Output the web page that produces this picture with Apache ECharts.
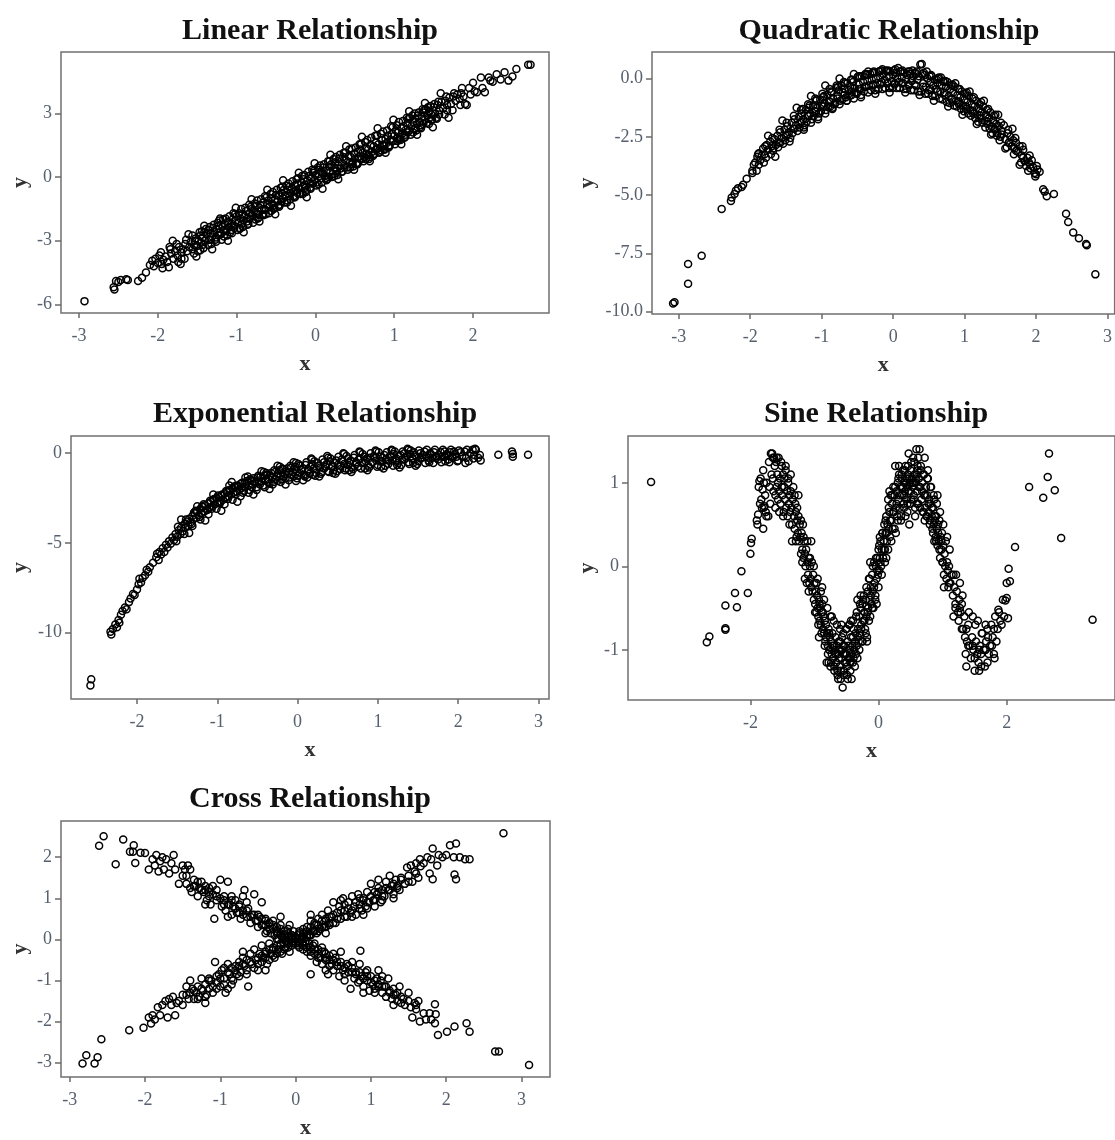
<!DOCTYPE html>
<html>
<head>
<meta charset="utf-8">
<style>html,body{margin:0;padding:0;background:#fff}#c{width:1115px;height:1140px}</style>
<script src="https://cdn.jsdelivr.net/npm/echarts@6/dist/echarts.min.js"></script>
</head>
<body>
<div id="c"></div>
<script>
// ---------- data ----------
const titles = ["Linear Relationship","Quadratic Relationship","Exponential Relationship","Sine Relationship","Cross Relationship"];

const linearXTicks = [-3,-2,-1,0,1,2];
const linearYTicks = [-6,-3,0,3];
const quadXTicks = [-3,-2,-1,0,1,2,3];
const quadYTicks = [-10,-7.5,-5,-2.5,0];
const expXTicks = [-2,-1,0,1,2,3];
const expYTicks = [-10,-5,0];
const sineXTicks = [-2,0,2];
const sineYTicks = [-1,0,1];
const crossXTicks = [-3,-2,-1,0,1,2,3];
const crossYTicks = [-3,-2,-1,0,1,2];

const linearData = [[-2.93,-5.85],[-2.55,-5.3],[-2.56,-5.2],[-2.53,-4.9],[-2.5,-4.95],[-2.47,-4.85],[-2.4,-4.82],[-2.38,-4.85],[-2.25,-4.9],[-2.2,-4.75],[-2.15,-4.5],[-2.1,-4.15],
[-2.07,-3.95],[-2.05,-4.2],[-2.03,-3.85],[-2.0,-4.05],[-1.98,-3.7],[-1.95,-4.1],[-1.93,-3.9],[-1.9,-3.75],[-1.88,-4.0],[-1.85,-3.3],[-1.83,-3.6],[-1.8,-3.85],[-1.78,-3.5],[-1.75,-3.7],[-1.73,-3.3],[-1.7,-3.55],[-1.7,-3.85],[-1.68,-3.4],[-1.65,-3.15],[-1.63,-3.5],[-1.6,-3.3],[-1.58,-3.05],[-1.56,-3.4],[-1.54,-3.2],[-1.52,-2.9],[-1.5,-3.25],[-1.48,-3.0],[-1.46,-2.75],[-1.45,-3.1],[-1.43,-2.85],[-1.41,-2.6],[-1.4,-3.0],[-1.38,-2.7],[-1.36,-2.5],[-1.35,-2.95],[-1.33,-2.65],[-1.31,-2.8],[-1.3,-2.4],[-1.28,-2.6],[-1.26,-2.85],[-1.25,-2.45],[-1.23,-2.3],[-1.21,-2.6],[-1.2,-2.7],[-1.18,-2.35],[-1.16,-2.5],[-1.15,-2.2],[-1.13,-2.45],[-1.11,-2.1],[-1.1,-2.35],[-1.08,-2.6],[-1.06,-2.2],[-1.05,-2.0],[-1.03,-2.3],[-1.01,-2.05],[-1.0,-1.85],[-0.98,-2.15],[-0.96,-2.4],[-0.95,-1.95],[-0.93,-1.75],[-0.91,-2.05],[-0.9,-1.85],[-0.88,-1.6],[-0.86,-1.95],[-0.85,-2.2],[-0.83,-1.7],[-0.81,-1.5],[-0.8,-1.8],[-0.78,-1.6],[-0.76,-1.35],[-0.75,-1.7],[-0.73,-1.95],[-0.71,-1.45],[-0.7,-1.3],[-0.68,-1.55],[-0.66,-1.2],[-0.65,-1.5],[-0.63,-1.75],[-0.61,-1.3],[-0.6,-1.1],[-0.58,-1.4],[-0.56,-1.0],[-0.55,-1.25],[-0.53,-1.5],[-0.51,-1.05],[-0.5,-0.85],[-0.48,-1.15],[-0.46,-0.9],[-0.45,-1.3],[-0.43,-0.75],[-0.41,-1.0],[-0.4,-0.6],[-0.38,-0.85],[-0.36,-1.1],[-0.35,-0.6],[-0.33,-0.45],[-0.31,-0.75],[-0.3,-0.55],[-0.28,-0.9],[-0.26,-0.4],[-0.25,-0.65],[-0.23,-0.3],[-0.21,-0.55],[-0.2,-0.75],[-0.18,-0.25],[-0.16,-0.45],[-0.15,-0.1],[-0.13,-0.35],[-0.11,-0.6],[-0.1,-0.15],[-0.08,0.05],[-0.06,-0.3],[-0.05,-0.05],[-0.03,0.2],[-0.01,-0.15],[0.0,0.1],[0.02,-0.25],[0.04,0.15],[0.05,0.35],[0.07,-0.05],[0.09,0.2],[0.1,0.45],[0.12,0.05],[0.14,0.3],[0.15,-0.1],[0.17,0.5],[0.19,0.25],[0.2,0.6],[0.22,0.15],[0.24,0.45],[0.25,0.7],[0.27,0.3],[0.29,0.55],[0.3,0.85],[0.32,0.4],[0.34,0.65],[0.35,0.95],[0.37,0.55],[0.39,0.8],[0.4,0.45],[0.42,1.0],[0.44,0.7],[0.45,0.95],[0.47,0.6],[0.49,1.1],[0.5,0.85],[0.52,0.65],[0.54,1.2],[0.55,0.95],[0.57,1.3],[0.59,0.85],[0.6,1.15],[0.62,0.95],[0.64,1.4],[0.65,1.1],[0.67,1.3],[0.69,0.95],[0.7,1.5],[0.72,1.2],[0.74,1.45],[0.75,1.1],[0.77,1.65],[0.79,1.35],[0.8,1.55],[0.82,1.2],[0.84,1.75],[0.85,1.5],[0.87,1.3],[0.89,1.8],[0.9,1.6],[0.92,1.95],[0.94,1.5],[0.95,1.75],[0.97,2.05],[0.99,1.7],[1.0,1.95],[1.02,2.2],[1.04,1.85],[1.05,2.1],[1.07,1.8],[1.09,2.3],[1.1,2.05],[1.12,2.4],[1.14,2.0],[1.15,2.25],[1.17,2.55],[1.19,2.2],[1.2,2.8],[1.22,2.4],[1.24,2.6],[1.25,2.25],[1.27,2.75],[1.29,2.5],[1.3,2.9],[1.32,2.6],[1.34,2.45],[1.35,2.85],[1.37,3.05],[1.39,2.7],[1.4,3.2],[1.42,2.9],[1.44,2.75],[1.45,3.1],[1.47,2.95],[1.5,3.3],[1.52,3.0],[1.55,3.4],[1.57,3.15],[1.6,3.55],[1.62,3.25],[1.65,3.6],[1.67,3.4],[1.7,3.75],[1.72,3.45],[1.75,3.8],[1.78,3.6],[1.8,3.9],[1.83,3.7],[1.85,3.95],[1.88,3.8],[1.9,3.45],[1.92,3.4],[1.95,4.2],[1.97,3.9],[2.0,4.45],[2.02,4.05],[2.05,4.0],[2.1,4.7],[2.12,4.2],[2.15,4.0],[2.2,4.7],[2.22,4.55],[2.25,4.5],[2.3,4.85],[2.35,4.6],[2.4,4.95],[2.45,4.55],[2.5,4.75],[2.55,5.1],[2.7,5.3],[2.73,5.3]];
const linearExtra = [[-1.96,-3.55],[-1.94,-4.3],[-1.86,-4.25],[-1.84,-3.4],[-1.76,-3.15],[-1.74,-4.0],[-1.66,-3.85],[-1.64,-2.95],[-1.56,-2.75],[-1.54,-3.6],[-1.53,-3.0],[-1.46,-3.45],[-1.44,-2.55],[-1.43,-3.2],[-1.36,-3.2],[-1.34,-2.35],[-1.33,-2.95],[-1.26,-3.05],[-1.24,-2.15],[-1.23,-2.75],[-1.16,-2.8],[-1.14,-1.95],[-1.13,-2.55],[-1.06,-2.65],[-1.04,-1.7],[-1.03,-2.4],[-0.96,-2.45],[-0.94,-1.5],[-0.93,-2.2],[-0.86,-2.25],[-0.84,-1.3],[-0.83,-1.95],[-0.76,-2.0],[-0.74,-1.1],[-0.73,-1.75],[-0.66,-1.8],[-0.64,-0.9],[-0.63,-1.55],[-0.56,-1.6],[-0.54,-0.7],[-0.53,-1.35],[-0.46,-1.4],[-0.44,-0.5],[-0.43,-1.15],[-0.36,-1.2],[-0.34,-0.3],[-0.33,-0.9],[-0.26,-0.95],[-0.24,-0.1],[-0.23,-0.75],[-0.16,-0.8],[-0.14,0.1],[-0.13,-0.5],[-0.06,-0.55],[-0.04,0.35],[-0.03,-0.3],[0.04,-0.35],[0.06,0.55],[0.07,0.25],[0.14,-0.15],[0.16,0.75],[0.17,0.0],[0.24,0.05],[0.26,0.95],[0.27,0.3],[0.34,0.25],[0.36,1.15],[0.37,0.45],[0.44,0.45],[0.46,1.35],[0.47,0.7],[0.54,0.65],[0.56,1.55],[0.57,0.85],[0.64,0.85],[0.66,1.75],[0.67,1.05],[0.74,1.05],[0.76,1.95],[0.77,1.3],[0.84,1.25],[0.86,2.15],[0.87,1.5],[0.94,1.45],[0.96,2.4],[0.97,1.7],[1.04,1.7],[1.06,2.6],[1.07,1.9],[1.14,1.9],[1.16,2.8],[1.17,2.1],[1.24,2.1],[1.26,3.0],[1.27,2.3],[1.34,2.3],[1.36,3.2],[1.37,2.5],[1.44,2.5],[1.46,3.35],[1.47,2.7],[1.54,2.75],[1.56,3.55],[1.57,2.95],[1.64,2.95],[1.66,3.8],[1.67,3.15],[1.74,3.15],[1.76,3.95],[1.84,3.4],[1.86,4.2]];
const linearExtra2 = [[-1.49,-3.5],[-1.47,-2.6],[-1.42,-3.35],[-1.39,-2.45],[-1.32,-3.15],[-1.29,-2.25],[-1.27,-2.95],[-1.22,-2.05],[-1.19,-2.95],[-1.17,-2.0],[-1.12,-2.75],[-1.09,-1.85],[-1.07,-2.5],[-1.02,-1.75],[-0.99,-2.5],[-0.97,-1.7],[-0.92,-2.35],[-0.89,-1.45],[-0.87,-2.1],[-0.82,-1.4],[-0.79,-2.15],[-0.77,-1.25],[-0.72,-1.9],[-0.69,-1.05],[-0.67,-1.75],[-0.62,-0.95],[-0.59,-1.7],[-0.57,-0.8],[-0.52,-1.45],[-0.49,-0.6],[-0.47,-1.35],[-0.42,-0.45],[-0.39,-1.2],[-0.37,-0.4],[-0.32,-1.05],[-0.29,-0.2],[-0.27,-0.95],[-0.22,-0.05],[-0.19,-0.8],[-0.17,0.05],[-0.12,-0.7],[-0.09,0.25],[-0.07,-0.5],[-0.02,0.3],[0.01,-0.4],[0.03,0.45],[0.08,-0.25],[0.11,0.6],[0.13,-0.05],[0.18,0.75],[0.21,0.0],[0.23,0.85],[0.28,0.1],[0.31,1.05],[0.33,0.25],[0.38,1.15],[0.41,0.35],[0.43,1.3],[0.48,0.5],[0.51,1.4],[0.53,0.6],[0.58,1.55],[0.61,0.75],[0.63,1.65],[0.68,0.85],[0.71,1.85],[0.73,1.0],[0.78,1.95],[0.81,1.15],[0.83,2.05],[0.88,1.3],[0.91,2.2],[0.93,1.4],[0.98,2.35],[1.01,1.55],[1.03,2.45],[1.08,1.75],[1.11,2.65],[1.13,1.85],[1.18,2.75],[1.21,2.0],[1.23,2.9],[1.28,2.2],[1.31,3.05],[1.33,2.35],[1.38,3.15],[1.41,2.55],[1.43,3.3],[1.48,2.7],[1.51,3.45],[1.53,2.8]];
const linearExtra3 = [[-1.81,-3.0],[-1.71,-4.1],[-1.61,-2.7],[-1.51,-3.75],[-1.41,-2.3],[-1.31,-3.4],[-1.21,-1.95],[-1.11,-3.0],[-1.01,-1.45],[-0.91,-2.6],[-0.81,-1.05],[-0.71,-2.1],[-0.61,-0.6],[-0.51,-1.75],[-0.41,-0.15],[-0.31,-1.35],[-0.21,0.2],[-0.11,-0.95],[-0.01,0.65],[0.09,-0.55],[0.19,1.05],[0.29,-0.1],[0.39,1.45],[0.49,0.35],[0.59,1.9],[0.69,0.75],[0.79,2.3],[0.89,1.15],[0.99,2.7],[1.09,1.55],[1.19,3.1],[1.29,2.0],[1.39,3.5],[1.49,2.35],[1.59,3.95],[1.69,2.8]];

const quadData = [[-3.08,-9.65],[-3.06,-9.6],[-2.87,-7.95],[-2.87,-8.8],[-2.68,-7.6],[-2.4,-5.6],[-2.27,-5.25],[-2.26,-5.1],[-2.22,-4.95],[-2.2,-4.8],[-2.17,-4.7],[-2.12,-4.65],[-2.1,-4.55],[-2.05,-4.3],[-1.97,-4.05],[-1.97,-3.95],[-1.95,-3.7],
[-1.93,-3.6],[-1.9,-3.35],[-1.88,-3.2],[-1.86,-3.5],[-1.84,-3.3],[-1.82,-3.0],[-1.8,-3.25],[-1.77,-2.85],[-1.75,-3.05],[-1.72,-2.7],[-1.7,-2.9],[-1.68,-3.0],[-1.66,-2.6],[-1.64,-2.85],[-1.62,-2.45],[-1.6,-2.75],[-1.58,-2.3],[-1.56,-2.55],[-1.54,-2.8],[-1.52,-2.2],[-1.5,-2.45],[-1.48,-2.05],[-1.46,-2.3],[-1.44,-2.55],[-1.42,-1.9],[-1.4,-2.15],[-1.38,-1.75],[-1.36,-2.0],[-1.34,-2.25],[-1.32,-1.65],[-1.3,-1.9],[-1.28,-1.5],[-1.26,-1.75],[-1.24,-2.0],[-1.22,-1.35],[-1.2,-1.6],[-1.18,-1.25],[-1.16,-1.5],[-1.14,-1.75],[-1.12,-1.15],[-1.1,-1.4],[-1.08,-0.95],[-1.06,-1.25],[-1.04,-1.5],[-1.02,-0.9],[-1.0,-1.15],[-0.98,-0.8],[-0.96,-1.05],[-0.94,-1.35],[-0.92,-0.7],[-0.9,-0.95],[-0.88,-1.2],[-0.86,-0.6],[-0.84,-0.85],[-0.82,-1.1],[-0.8,-0.4],[-0.78,-0.75],[-0.76,-0.5],[-0.74,-0.95],[-0.72,-0.3],[-0.7,-0.6],[-0.68,-0.45],[-0.66,-0.8],[-0.64,-0.2],[-0.62,-0.5],[-0.6,-0.35],[-0.58,-0.7],[-0.56,-0.15],[-0.54,-0.4],[-0.52,-0.6],[-0.5,0.05],[-0.48,-0.25],[-0.46,-0.45],[-0.44,0.1],[-0.42,-0.15],[-0.4,-0.35],[-0.38,0.15],[-0.36,-0.1],[-0.34,-0.3],[-0.32,0.2],[-0.3,-0.05],[-0.28,-0.25],[-0.26,0.25],[-0.24,0.0],[-0.22,-0.2],[-0.2,0.3],[-0.18,0.05],[-0.16,-0.15],[-0.14,0.2],[-0.12,-0.05],[-0.1,0.35],[-0.08,-0.2],[-0.06,0.1],[-0.04,0.3],[-0.02,-0.1],[0.0,0.15],[0.02,-0.25],[0.04,0.25],[0.06,0.0],[0.08,-0.15],[0.1,0.3],[0.12,0.05],[0.14,-0.2],[0.16,0.25],[0.18,-0.05],[0.2,0.15],[0.22,-0.3],[0.24,0.2],[0.26,-0.1],[0.28,0.1],[0.3,-0.25],[0.32,0.2],[0.34,-0.05],[0.36,0.1],[0.38,0.6],[0.4,0.62],[0.42,-0.2],[0.44,0.15],[0.46,-0.35],[0.48,0.0],[0.5,-0.5],[0.52,-0.15],[0.54,0.1],[0.56,-0.3],[0.58,-0.05],[0.6,-0.45],[0.62,-0.2],[0.64,0.05],[0.66,-0.55],[0.68,-0.3],[0.7,-0.1],[0.72,-0.6],[0.74,-0.35],[0.76,-0.15],[0.78,-0.75],[0.8,-0.45],[0.82,-0.9],[0.84,-0.6],[0.86,-0.35],[0.88,-0.95],[0.9,-0.7],[0.92,-1.1],[0.94,-0.8],[0.96,-0.55],[0.98,-1.15],[1.0,-0.9],[1.02,-1.3],[1.04,-1.0],[1.06,-0.75],[1.08,-1.35],[1.1,-1.1],[1.12,-1.5],[1.14,-1.2],[1.16,-0.95],[1.18,-1.55],[1.2,-1.3],[1.22,-1.7],[1.24,-1.45],[1.26,-1.2],[1.28,-1.8],[1.3,-1.55],[1.32,-1.95],[1.34,-1.7],[1.36,-1.45],[1.38,-2.05],[1.4,-1.8],[1.42,-2.2],[1.44,-1.95],[1.46,-2.35],[1.48,-2.05],[1.5,-2.5],[1.52,-2.25],[1.55,-2.0],[1.57,-2.6],[1.6,-2.35],[1.62,-2.75],[1.64,-2.5],[1.66,-2.9],[1.68,-2.65],[1.7,-3.0],[1.72,-2.75],[1.75,-3.15],[1.77,-2.9],[1.8,-3.3],[1.82,-3.05],[1.84,-3.55],[1.86,-3.75],[1.88,-3.4],[1.9,-3.6],[1.92,-3.85],[1.94,-3.5],[1.96,-3.8],[1.98,-4.05],[2.0,-4.1],[2.02,-3.9],[2.05,-4.0],
[2.1,-4.75],[2.12,-4.85],[2.15,-5.05],[2.25,-4.95],[2.42,-5.8],[2.45,-6.15],[2.52,-6.6],[2.6,-6.85],[2.7,-7.1],[2.71,-7.15],[2.83,-8.4]];
const quadExtra = [[-1.91,-3.95],[-1.89,-3.25],[-1.88,-3.7],[-1.81,-3.6],[-1.79,-2.9],[-1.78,-3.4],[-1.71,-3.25],[-1.69,-2.55],[-1.68,-3.1],[-1.61,-2.95],[-1.59,-2.2],[-1.58,-2.75],[-1.51,-2.65],[-1.49,-1.9],[-1.48,-2.4],[-1.41,-2.35],[-1.39,-1.6],[-1.38,-2.15],[-1.31,-2.1],[-1.29,-1.35],[-1.28,-1.85],[-1.21,-1.85],[-1.19,-1.1],[-1.18,-1.6],[-1.11,-1.6],[-1.09,-0.85],[-1.08,-1.4],[-1.01,-1.4],[-0.99,-0.65],[-0.98,-1.2],[-0.91,-1.2],[-0.89,-0.45],[-0.88,-1.0],[-0.81,-1.05],[-0.79,-0.3],[-0.78,-0.85],[-0.71,-0.9],[-0.69,-0.15],[-0.68,-0.7],[-0.61,-0.75],[-0.59,-0.05],[-0.58,-0.55],[-0.51,-0.65],[-0.49,0.1],[-0.48,-0.45],[-0.41,-0.55],[-0.39,0.2],[-0.38,-0.35],[-0.31,-0.5],[-0.29,0.25],[-0.28,-0.3],[-0.21,-0.45],[-0.19,0.3],[-0.18,-0.25],[-0.11,-0.4],[-0.09,0.3],[-0.08,-0.2],[-0.01,-0.4],[0.01,0.35],[0.02,-0.2],[0.09,-0.4],[0.11,0.3],[0.12,-0.2],[0.19,-0.45],[0.21,0.3],[0.22,-0.25],[0.29,-0.5],[0.31,0.25],[0.32,-0.3],[0.39,-0.55],[0.41,0.2],[0.42,-0.35],[0.49,-0.65],[0.51,0.1],[0.52,-0.45],[0.59,-0.75],[0.61,-0.05],[0.62,-0.55],[0.69,-0.9],[0.71,-0.15],[0.72,-0.7],[0.79,-1.05],[0.81,-0.3],[0.82,-0.85],[0.89,-1.2],[0.91,-0.45],[0.92,-1.0],[0.99,-1.4],[1.01,-0.65],[1.02,-1.2],[1.09,-1.6],[1.11,-0.85],[1.12,-1.4],[1.19,-1.85],[1.21,-1.1],[1.22,-1.6],[1.29,-2.1],[1.31,-1.35],[1.32,-1.85],[1.39,-2.35],[1.41,-1.6],[1.42,-2.15],[1.49,-2.65],[1.51,-1.9],[1.52,-2.4],[1.59,-2.95],[1.61,-2.2],[1.62,-2.75],[1.69,-3.25],[1.71,-2.55],[1.72,-3.1],[1.79,-3.6],[1.81,-2.9],[1.82,-3.4],[1.89,-3.95],[1.91,-3.3],[1.92,-3.7],[1.99,-4.2],[2.01,-3.75]];
const quadExtra2 = [[-1.27,-1.3],[-1.25,-2.1],[-1.17,-1.15],[-1.15,-1.9],[-1.07,-0.9],[-1.05,-1.65],[-0.97,-0.75],[-0.95,-1.5],[-0.87,-0.55],[-0.85,-1.25],[-0.77,-0.35],[-0.75,-1.1],[-0.67,-0.2],[-0.65,-0.95],[-0.57,-0.05],[-0.55,-0.85],[-0.47,0.1],[-0.45,-0.7],[-0.37,0.2],[-0.35,-0.6],[-0.27,0.3],[-0.25,-0.5],[-0.17,0.35],[-0.15,-0.45],[-0.07,0.35],[-0.05,-0.4],[0.03,0.4],[0.05,-0.4],[0.13,0.35],[0.15,-0.45],[0.23,0.3],[0.25,-0.5],[0.33,0.3],[0.35,-0.55],[0.43,0.25],[0.45,-0.65],[0.53,0.15],[0.55,-0.75],[0.63,0.0],[0.65,-0.85],[0.73,-0.1],[0.75,-1.0],[0.83,-0.25],[0.85,-1.15],[0.93,-0.45],[0.95,-1.3],[1.03,-0.6],[1.05,-1.5],[1.13,-0.8],[1.15,-1.7],[1.23,-1.0],[1.25,-1.9],[1.33,-1.3],[1.35,-2.15],[1.43,-1.55],[1.45,-2.45]];
const quadExtra3 = [[-1.75,-2.45],[-1.65,-3.35],[-1.55,-1.8],[-1.45,-2.7],[-1.35,-1.25],[-1.25,-2.2],[-1.15,-0.75],[-1.05,-1.75],[-0.95,-0.3],[-0.85,-1.3],[-0.75,0.0],[-0.65,-0.95],[-0.55,0.2],[-0.45,-0.8],[-0.35,0.3],[-0.25,-0.65],[-0.15,0.4],[-0.05,-0.6],[0.07,0.45],[0.17,-0.6],[0.27,0.35],[0.37,-0.7],[0.47,0.3],[0.57,-0.95],[0.67,0.05],[0.77,-1.2],[0.87,-0.2],[0.97,-1.55],[1.07,-0.55],[1.17,-1.95],[1.27,-0.95],[1.37,-2.4],[1.47,-1.55],[1.57,-3.0],[1.67,-2.15],[1.77,-3.7]];

const expData = [[-2.58,-12.95],[-2.57,-12.6],
[-2.33,-9.95],[-2.32,-10.1],[-2.3,-9.8],[-2.27,-9.55],[-2.25,-9.7],[-2.23,-9.3],[-2.22,-9.45],[-2.2,-9.0],[-2.18,-8.8],[-2.15,-8.6],[-2.13,-8.7],[-2.1,-8.3],[-2.08,-8.1],[-2.05,-7.85],[-2.03,-7.9],[-2.0,-7.6],[-1.98,-7.3],[-1.97,-7.0],[-1.95,-7.2],[-1.93,-6.95],[-1.9,-6.8],[-1.88,-6.5],[-1.86,-6.6],[-1.84,-6.35],[-1.8,-6.1],[-1.76,-5.8],[-1.75,-5.6],[-1.73,-5.95],[-1.72,-5.5],[-1.7,-5.65],[-1.68,-5.3],[-1.66,-5.5],[-1.64,-5.1],[-1.62,-5.25],[-1.6,-4.9],[-1.58,-5.05],[-1.56,-4.7],[-1.54,-4.85],[-1.52,-4.5],[-1.5,-4.65],[-1.48,-4.3],[-1.46,-4.5],[-1.45,-4.15],[-1.43,-4.35],[-1.41,-3.95],[-1.4,-4.15],[-1.38,-3.8],[-1.36,-4.05],[-1.35,-3.65],[-1.33,-3.85],[-1.31,-3.5],[-1.3,-3.7],[-1.28,-3.35],[-1.26,-3.6],[-1.25,-3.25],[-1.23,-3.45],[-1.21,-3.1],[-1.2,-3.35],[-1.18,-3.0],[-1.16,-3.25],[-1.15,-2.9],[-1.13,-3.15],[-1.11,-2.8],[-1.1,-3.05],[-1.08,-2.7],[-1.06,-2.95],[-1.05,-2.6],[-1.03,-2.85],[-1.01,-2.5],[-1.0,-2.75],[-0.98,-2.45],[-0.96,-2.7],[-0.95,-2.35],[-0.93,-2.6],[-0.91,-2.25],[-0.9,-2.5],[-0.88,-2.15],[-0.86,-2.4],[-0.85,-2.05],[-0.83,-2.3],[-0.81,-1.95],[-0.8,-2.2],[-0.78,-1.85],[-0.76,-2.15],[-0.75,-1.8],[-0.73,-2.05],[-0.71,-1.7],[-0.7,-1.95],[-0.68,-2.2],[-0.66,-1.65],[-0.65,-1.9],[-0.63,-1.55],[-0.61,-1.8],[-0.6,-2.05],[-0.58,-1.5],[-0.56,-1.75],[-0.55,-1.4],[-0.53,-1.65],[-0.51,-1.9],[-0.5,-1.35],[-0.48,-1.6],[-0.46,-1.3],[-0.45,-1.55],[-0.43,-1.8],[-0.41,-1.25],[-0.4,-1.5],[-0.38,-1.2],[-0.36,-1.45],[-0.35,-1.7],[-0.33,-1.1],[-0.31,-1.35],[-0.3,-1.6],[-0.28,-1.05],[-0.26,-1.3],[-0.25,-1.55],[-0.23,-0.95],[-0.21,-1.25],[-0.2,-1.45],[-0.18,-0.9],[-0.16,-1.15],[-0.15,-1.4],[-0.13,-0.85],[-0.11,-1.1],[-0.1,-1.35],[-0.08,-0.8],[-0.06,-1.05],[-0.05,-1.3],[-0.03,-0.75],[-0.01,-1.0],[0.0,-1.25],[0.03,-0.7],[0.05,-0.95],[0.08,-1.2],[0.1,-0.65],[0.13,-0.9],[0.15,-1.15],[0.18,-0.6],[0.2,-0.85],[0.23,-1.1],[0.25,-0.55],[0.28,-0.8],[0.3,-1.05],[0.33,-0.5],[0.35,-0.75],[0.38,-1.0],[0.4,-0.45],[0.43,-0.7],[0.45,-0.95],[0.48,-0.4],[0.5,-0.65],[0.53,-0.9],[0.55,-0.35],[0.58,-0.6],[0.6,-0.85],[0.63,-0.3],[0.65,-0.55],[0.68,-0.8],[0.7,-0.25],[0.73,-0.5],[0.75,-0.75],[0.78,-0.3],[0.8,-0.55],[0.83,-0.2],[0.85,-0.45],[0.88,-0.7],[0.9,-0.25],[0.93,-0.5],[0.95,-0.15],[0.98,-0.4],[1.0,-0.65],[1.03,-0.2],[1.05,-0.45],[1.08,-0.1],[1.1,-0.35],[1.13,-0.6],[1.15,-0.15],[1.18,-0.4],[1.2,-0.05],[1.23,-0.3],[1.25,-0.55],[1.28,-0.1],[1.3,-0.35],[1.33,0.0],[1.35,-0.25],[1.38,-0.5],[1.4,-0.05],[1.43,-0.3],[1.45,0.05],[1.48,-0.2],[1.5,-0.45],[1.53,0.0],[1.55,-0.25],[1.58,0.1],[1.6,-0.15],[1.63,-0.4],[1.65,0.0],[1.68,-0.25],[1.7,0.05],[1.73,-0.15],[1.75,-0.35],[1.78,0.05],[1.8,-0.2],[1.83,0.1],[1.85,-0.1],[1.88,-0.35],[1.9,0.05],[1.93,-0.15],[1.95,0.1],[1.98,-0.2],[2.0,-0.4],[2.03,0.05],[2.05,-0.15],[2.08,0.1],[2.1,-0.25],[2.13,-0.45],[2.15,0.0],[2.18,0.2],[2.2,-0.1],[2.22,0.2],[2.25,-0.25],[2.27,-0.1],[2.28,-0.4],[2.5,-0.09],[2.67,0.09],[2.68,-0.05],[2.68,-0.19],[2.87,-0.09]];
const expExtra = [[-1.51,-4.9],[-1.49,-4.1],[-1.41,-4.5],[-1.39,-3.7],[-1.31,-4.05],[-1.29,-3.3],[-1.21,-3.7],[-1.19,-2.95],[-1.11,-3.4],[-1.09,-2.65],[-1.07,-3.1],[-1.01,-3.1],[-0.99,-2.35],[-0.97,-2.8],[-0.91,-2.85],[-0.89,-2.1],[-0.87,-2.55],[-0.81,-2.6],[-0.79,-1.85],[-0.77,-2.3],[-0.71,-2.4],[-0.69,-1.65],[-0.67,-2.1],[-0.61,-2.2],[-0.59,-1.45],[-0.57,-1.9],[-0.51,-2.05],[-0.49,-1.25],[-0.47,-1.75],[-0.41,-1.9],[-0.39,-1.1],[-0.37,-1.6],[-0.31,-1.75],[-0.29,-0.95],[-0.27,-1.45],[-0.21,-1.6],[-0.19,-0.85],[-0.17,-1.3],[-0.11,-1.5],[-0.09,-0.7],[-0.07,-1.2],[-0.01,-1.4],[0.01,-0.6],[0.03,-1.1],[0.09,-1.3],[0.11,-0.5],[0.13,-1.0],[0.19,-1.2],[0.21,-0.45],[0.23,-0.9],[0.29,-1.15],[0.31,-0.35],[0.33,-0.85],[0.39,-1.05],[0.41,-0.3],[0.43,-0.75],[0.49,-1.0],[0.51,-0.2],[0.53,-0.7],[0.59,-0.95],[0.61,-0.15],[0.63,-0.65],[0.69,-0.9],[0.71,-0.1],[0.73,-0.6],[0.79,-0.85],[0.81,-0.05],[0.83,-0.55],[0.89,-0.8],[0.91,0.0],[0.93,-0.5],[0.99,-0.75],[1.01,0.05],[1.03,-0.45],[1.09,-0.7],[1.11,0.05],[1.13,-0.4],[1.19,-0.7],[1.21,0.1],[1.23,-0.4],[1.29,-0.65],[1.31,0.1],[1.33,-0.35],[1.39,-0.6],[1.41,0.15],[1.43,-0.3],[1.49,-0.6],[1.51,0.15],[1.53,-0.3],[1.59,-0.55],[1.61,0.2],[1.63,-0.25],[1.69,-0.55],[1.71,0.2],[1.73,-0.25],[1.79,-0.5],[1.81,0.2],[1.83,-0.2],[1.89,-0.5],[1.91,0.2],[1.93,-0.25],[1.99,-0.45],[2.01,0.15],[2.09,-0.55],[2.11,0.2],[2.19,-0.3],[2.21,0.25]];
const expExtra2 = [[-1.27,-3.2],[-1.17,-2.85],[-1.04,-2.55],[-0.94,-2.3],[-0.84,-2.05],[-0.74,-1.85],[-0.64,-1.7],[-0.54,-1.55],[-0.44,-1.4],[-0.34,-1.25],[-0.24,-1.15],[-0.14,-1.0],[-0.04,-0.9],[0.06,-0.85],[0.16,-0.75],[0.26,-0.7],[0.36,-0.6],[0.46,-0.55],[0.56,-0.45],[0.66,-0.4],[0.76,-0.35],[0.86,-0.3],[0.96,-0.25],[1.06,-0.25],[1.16,-0.2],[1.26,-0.15],[1.36,-0.15],[1.46,-0.1],[1.56,-0.1],[1.66,-0.05],[1.76,-0.1],[1.86,-0.05],[1.96,-0.05],[-1.32,-3.95],[-1.22,-3.55],[-1.12,-3.15],[-0.02,-1.55],[0.12,-1.35],[0.22,-1.25],[0.44,-1.1],[0.64,-0.95],[0.84,-0.85],[1.04,-0.75],[1.24,-0.65],[1.44,-0.55],[1.64,-0.5],[1.84,-0.45],[-0.82,-1.6],[-0.62,-1.3],[-0.42,-1.05],[-0.22,-0.75],[-0.02,-0.55],[0.18,-0.35],[0.38,-0.25],[0.58,-0.05],[0.78,0.05],[0.98,0.1],[1.18,0.15],[1.38,0.2]];
const expExtra3 = [[-1.45,-3.7],[-1.35,-4.45],[-1.25,-2.95],[-1.15,-3.75],[-1.05,-2.3],[-0.95,-3.2],[-0.85,-1.8],[-0.75,-2.7],[-0.65,-1.35],[-0.55,-2.3],[-0.45,-1.0],[-0.35,-2.0],[-0.25,-0.7],[-0.15,-1.75],[-0.05,-0.5],[0.07,-1.5],[0.17,-0.3],[0.27,-1.3],[0.37,-0.15],[0.47,-1.15],[0.57,0.0],[0.67,-1.05],[0.77,0.1],[0.87,-0.95],[0.97,0.15],[1.07,-0.85],[1.17,0.2],[1.27,-0.8],[1.37,0.25],[1.47,-0.7]];

const sineData = [[-3.55,1.01],[-2.68,-0.91],[-2.64,-0.84],[-2.39,-0.47],[-2.39,-0.74],[-2.39,-0.76],[-2.24,-0.32],[-2.21,-0.49],[-2.14,-0.06],[-2.04,-0.32],[-2.0,0.15],[-1.99,0.28],[-1.98,0.33],
[-1.9,0.55],[-1.89,0.5],[-1.88,0.62],[-1.87,0.95],[-1.86,1.02],[-1.85,0.75],[-1.84,1.05],[-1.83,0.8],[-1.82,0.7],[-1.81,0.92],[-1.8,0.45],[-1.79,1.0],[-1.78,0.72],[-1.77,0.85],[-1.76,0.65],[-1.75,1.0],[-1.72,0.6],[-1.7,0.95],[-1.68,1.35],[-1.66,1.35],[-1.65,1.05],[-1.64,0.9],[-1.63,1.3],[-1.62,1.2],[-1.61,0.85],[-1.6,1.25],[-1.59,0.95],[-1.58,1.1],[-1.57,0.8],[-1.56,1.3],[-1.55,0.9],[-1.54,1.05],[-1.53,0.75],[-1.52,1.25],[-1.51,0.95],[-1.5,0.85],[-1.49,1.1],[-1.48,0.65],[-1.47,0.95],[-1.46,0.8],[-1.45,1.2],[-1.44,0.7],[-1.43,0.9],[-1.42,0.6],[-1.41,1.05],[-1.4,0.75],[-1.39,0.85],[-1.38,0.65],[-1.37,1.1],[-1.36,0.7],[-1.35,0.5],[-1.34,0.8],[-1.33,0.95],[-1.32,0.6],[-1.31,0.45],[-1.3,0.75],[-1.29,0.65],[-1.28,0.35],[-1.27,0.55],[-1.26,0.4],[-1.25,0.6],[-1.24,0.3],[-1.23,0.5],[-1.22,0.35],[-1.21,0.15],[-1.2,0.4],[-1.19,0.2],[-1.18,0.5],[-1.17,0.1],[-1.16,0.3],[-1.15,0.15],[-1.14,0.0],[-1.13,0.2],[-1.12,-0.2],[-1.11,0.05],[-1.1,-0.1],[-1.09,0.1],[-1.08,-0.2],[-1.07,0.0],[-1.06,-0.15],[-1.05,-0.25],[-1.04,0.05],[-1.03,-0.3],[-1.02,-0.1],[-1.01,-0.4],[-1.0,-0.2],[-0.99,-0.45],[-0.98,-0.3],[-0.97,-0.55],[-0.96,-0.35],[-0.95,-0.5],[-0.94,-0.6],[-0.93,-0.4],[-0.92,-0.65],[-0.91,-0.5],[-0.9,-0.7],[-0.89,-0.55],[-0.88,-0.45],[-0.87,-0.75],[-0.86,-0.6],[-0.85,-0.8],[-0.84,-0.65],[-0.83,-0.9],[-0.82,-0.7],[-0.81,-1.15],[-0.8,-0.8],[-0.79,-0.95],[-0.78,-0.75],[-0.77,-1.0],[-0.76,-0.85],[-0.75,-1.2],[-0.74,-0.9],[-0.73,-1.05],[-0.72,-0.8],[-0.71,-1.1],[-0.7,-0.95],[-0.69,-1.25],[-0.68,-1.0],[-0.67,-0.85],[-0.66,-1.15],[-0.65,-0.95],[-0.64,-1.3],[-0.63,-1.05],[-0.62,-0.9],[-0.61,-1.2],[-0.6,-1.0],[-0.59,-1.35],[-0.58,-1.1],[-0.57,-0.85],[-0.56,-1.45],[-0.55,-1.05],[-0.54,-1.25],[-0.53,-0.95],[-0.52,-1.15],[-0.51,-0.75],[-0.5,-1.05],[-0.49,-1.3],[-0.48,-0.9],[-0.47,-1.1],[-0.46,-0.7],[-0.45,-1.0],[-0.44,-1.25],[-0.43,-0.85],[-0.42,-1.35],[-0.41,-0.95],[-0.4,-1.15],[-0.39,-0.75],[-0.38,-1.0],[-0.37,-1.2],[-0.36,-0.8],[-0.35,-0.6],[-0.34,-0.95],[-0.33,-0.4],[-0.32,-0.75],[-0.31,-0.9],[-0.3,-0.6],[-0.29,-0.8],[-0.28,-0.5],[-0.27,-0.7],[-0.26,-0.9],[-0.25,-0.45],[-0.24,-0.65],[-0.23,-0.35],[-0.22,-0.55],[-0.21,-0.75],[-0.2,-0.4],[-0.19,-0.6],[-0.18,-0.9],[-0.17,-0.3],[-0.16,-0.5],[-0.15,-0.15],[-0.14,-0.4],[-0.13,-0.6],[-0.12,-0.25],[-0.11,-0.45],[-0.1,-0.1],[-0.09,-0.3],[-0.08,-0.5],[-0.07,0.05],[-0.06,-0.2],[-0.05,-0.35],[-0.04,0.0],[-0.03,-0.15],[-0.02,0.1],[-0.01,-0.1],[0.0,0.2],[0.01,-0.05],[0.02,0.1],[0.03,0.3],[0.04,0.0],[0.05,0.2],[0.06,0.4],[0.07,0.1],[0.08,0.3],[0.09,0.5],[0.1,0.2],[0.11,0.4],[0.12,0.6],[0.13,0.3],[0.14,0.5],[0.15,0.8],[0.16,0.45],[0.17,0.65],[0.18,0.35],[0.19,0.85],[0.2,0.55],[0.21,0.75],[0.22,0.45],[0.23,0.95],[0.24,0.65],[0.25,0.85],[0.26,1.2],[0.27,0.7],[0.28,0.9],[0.29,0.6],[0.3,1.0],[0.31,0.8],[0.32,1.1],[0.33,0.7],[0.34,0.95],[0.35,0.55],[0.36,1.05],[0.37,0.85],[0.38,1.15],[0.39,0.75],[0.4,1.0],[0.41,0.9],[0.42,1.2],[0.43,0.8],[0.44,1.05],[0.45,0.65],[0.46,1.1],[0.47,0.9],[0.48,0.5],[0.49,1.0],[0.5,1.15],[0.51,0.8],[0.52,1.05],[0.53,0.95],[0.54,1.3],[0.55,0.85],[0.56,1.1],[0.57,0.7],[0.58,1.0],[0.59,1.4],[0.6,0.9],[0.61,1.15],[0.62,0.75],[0.63,1.05],[0.64,1.4],[0.65,0.95],[0.66,1.2],[0.67,0.8],[0.68,1.0],[0.69,0.65],[0.7,1.1],[0.71,0.85],[0.72,1.3],[0.73,0.7],[0.74,0.95],[0.75,0.6],[0.76,0.85],[0.77,1.05],[0.78,0.65],[0.79,0.8],[0.8,0.55],[0.81,0.75],[0.82,0.95],[0.83,0.6],[0.84,0.45],[0.85,0.7],[0.86,0.5],[0.87,0.8],[0.88,0.55],[0.89,0.35],[0.9,0.6],[0.91,0.45],[0.92,0.25],[0.93,0.5],[0.94,0.3],[0.95,0.55],[0.96,0.1],[0.97,0.35],[0.98,0.2],[0.99,0.4],[1.0,0.05],[1.01,0.25],[1.02,-0.1],[1.03,0.15],[1.04,0.0],[1.05,0.3],[1.06,-0.15],[1.07,0.05],[1.08,-0.05],[1.09,-0.25],[1.1,0.0],[1.12,-0.2],[1.14,-0.1],[1.16,-0.35],[1.18,-0.25],[1.2,-0.45],[1.22,-0.3],[1.24,-0.55],[1.25,-0.65],[1.26,-0.4],[1.28,-0.55],[1.3,-0.45],[1.32,-0.75],[1.34,-0.6],[1.35,-0.85],[1.36,-1.05],[1.38,-0.9],[1.4,-0.7],[1.42,-0.95],[1.44,-1.1],[1.46,-0.85],[1.48,-1.0],[1.5,-1.25],[1.52,-0.9],[1.54,-1.05],[1.55,-0.65],[1.56,-1.15],[1.58,-0.95],[1.6,-1.05],[1.62,-0.8],[1.64,-1.0],[1.66,-1.2],[1.68,-0.9],[1.7,-0.75],[1.72,-1.05],[1.74,-0.95],[1.76,-0.7],[1.78,-0.85],[1.8,-1.05],[1.82,-0.6],[1.84,-0.9],[1.86,-0.75],[1.87,-0.52],[1.88,-0.55],[1.9,-0.65],[1.92,-0.7],[1.94,-0.4],[1.96,-0.6],[1.98,-0.41],[2.0,-0.38],[2.0,-0.2],[2.02,-0.62],[2.03,-0.03],[2.05,-0.18],[2.13,0.23],[2.35,0.95],[2.57,0.82],[2.64,1.07],[2.66,1.35],[2.75,0.91],[2.85,0.34],[3.34,-0.64]];
const sineExtra = [[-1.8,1.15],[-1.79,0.7],[-1.71,1.25],[-1.69,0.75],[-1.61,0.7],[-1.59,1.3],[-1.51,1.2],[-1.49,0.6],[-1.41,1.0],[-1.39,0.5],[-1.31,0.85],[-1.29,0.3],[-1.21,0.55],[-1.19,0.05],[-1.11,0.3],[-1.09,-0.3],[-1.01,0.0],[-0.99,-0.55],[-0.95,-0.15],[-0.94,-0.7],[-0.9,-0.3],[-0.89,-0.8],[-0.85,-0.4],[-0.84,-0.95],[-0.8,-0.5],[-0.79,-1.05],[-0.75,-0.6],[-0.74,-1.15],[-0.7,-0.65],[-0.69,-1.2],[-0.65,-0.7],[-0.64,-1.25],[-0.6,-0.75],[-0.59,-1.25],[-0.55,-0.8],[-0.54,-1.3],[-0.5,-0.75],[-0.49,-1.2],[-0.45,-0.7],[-0.44,-1.15],[-0.4,-0.65],[-0.39,-1.1],[-0.35,-1.05],[-0.34,-0.55],[-0.3,-1.0],[-0.29,-0.45],[-0.25,-0.9],[-0.24,-0.4],[-0.2,-0.8],[-0.19,-0.25],[-0.15,-0.65],[-0.14,-0.15],[-0.1,-0.5],[-0.09,0.0],[-0.05,-0.4],[-0.04,0.1],[0.0,-0.25],[0.01,0.25],[0.05,-0.1],[0.06,0.4],[0.1,0.05],[0.11,0.55],[0.15,0.2],[0.16,0.7],[0.2,0.3],[0.21,0.85],[0.25,0.45],[0.26,0.95],[0.3,0.55],[0.31,1.05],[0.35,0.6],[0.36,1.1],[0.4,0.7],[0.41,1.15],[0.45,0.75],[0.46,1.2],[0.5,0.75],[0.51,1.25],[0.55,0.8],[0.56,1.25],[0.6,0.75],[0.61,1.2],[0.65,0.7],[0.66,1.15],[0.7,0.65],[0.71,1.1],[0.75,0.6],[0.76,1.05],[0.8,0.5],[0.81,0.95],[0.85,0.4],[0.86,0.85],[0.9,0.3],[0.91,0.75],[0.95,0.2],[0.96,0.65],[1.0,0.05],[1.01,0.5],[1.1,-0.2],[1.11,0.2],[1.2,-0.5],[1.21,-0.1],[1.3,-0.75],[1.31,-0.35],[1.4,-0.95],[1.41,-0.55],[1.5,-1.1],[1.51,-0.7],[1.6,-1.2],[1.61,-0.8],[1.7,-1.15],[1.71,-0.85],[1.8,-0.75],[1.81,-1.1]];
const sineExtra2 = [[-0.97,-0.2],[-0.92,-0.45],[-0.87,-0.55],[-0.82,-0.85],[-0.77,-0.8],[-0.72,-0.95],[-0.67,-1.05],[-0.62,-1.1],[-0.57,-1.0],[-0.52,-1.05],[-0.47,-0.95],[-0.42,-1.05],[-0.37,-0.9],[-0.32,-0.85],[-0.27,-0.75],[-0.22,-0.65],[-0.17,-0.55],[-0.12,-0.35],[-0.07,-0.25],[-0.02,-0.05],[0.03,0.05],[0.08,0.2],[0.13,0.4],[0.18,0.55],[0.23,0.65],[0.28,0.75],[0.33,0.85],[0.38,0.95],[0.43,1.0],[0.48,1.05],[0.53,1.0],[0.58,1.05],[0.63,0.95],[0.68,0.9],[0.73,0.85],[0.78,0.75],[0.83,0.7],[0.88,0.6],[0.93,0.4],[0.98,0.3],[-1.47,1.05],[-1.57,1.0],[-1.67,1.1],[-1.37,0.9],[-1.27,0.7],[-1.17,0.35],[-1.07,0.1],[1.17,-0.1],[1.27,-0.5],[1.37,-0.75],[1.47,-0.95],[1.57,-1.0],[1.67,-1.0],[1.77,-0.95],[-0.6,-0.9],[-0.5,-1.15],[-0.4,-0.85],[0.5,0.9],[0.6,1.1],[0.4,0.85],[-0.55,-0.95],[0.55,1.0],[-0.45,-1.1],[0.45,0.95]];
const sineExtra3 = [[-1.75,0.6],[-1.65,1.3],[-1.55,0.65],[-1.45,1.15],[-1.35,0.3],[-1.25,0.85],[-1.15,-0.15],[-1.05,0.3],[-0.93,-0.85],[-0.88,-0.25],[-0.78,-1.15],[-0.73,-0.6],[-0.63,-1.35],[-0.58,-0.7],[-0.48,-1.35],[-0.43,-0.65],[-0.33,-1.1],[-0.28,-0.35],[-0.18,-0.85],[-0.13,0.05],[-0.03,-0.45],[0.02,0.35],[0.12,0.1],[0.17,0.9],[0.27,0.4],[0.32,1.2],[0.42,0.6],[0.47,1.35],[0.57,0.6],[0.62,1.3],[0.72,0.55],[0.77,1.15],[0.87,0.3],[0.92,0.85],[1.02,-0.25],[1.07,0.35],[1.17,-0.6],[1.27,-0.2],[1.37,-1.2],[1.47,-0.6],[1.57,-1.25],[1.67,-0.7]];

const crossData = [[-2.55,2.51],[-2.61,2.28],[-2.29,2.43],[-2.39,1.83],[-2.15,2.29],[-2.16,2.13],[-2.13,1.86],[-2.06,2.11],[-2.2,2.13],
[2.76,2.58],[1.82,2.21],[2.05,2.29],[2.13,2.33],[2.25,1.95],[2.31,1.95],[2.11,1.58],[2.13,1.46],[1.82,1.46],[1.66,1.78],
[-2.83,-3.02],[-2.78,-2.82],[-2.67,-3.02],[-2.63,-2.87],[-2.58,-2.43],[-2.21,-2.21],[-2.02,-2.15],
[3.1,-3.06],[2.65,-2.73],[2.7,-2.73],[2.27,-2.04],[2.31,-2.25],[2.11,-2.12],[1.89,-2.33],[2.01,-2.25],[1.85,-1.58],[1.85,-2.04],[1.86,-1.82],
[-1.08,0.5],[0.2,-0.85],[0.86,-0.28],
[-1.95,-1.9],[-1.92,-2.05],[-1.9,-1.85],[-1.87,-1.95],[-1.83,-1.65],[-1.8,-1.85],[-1.77,-1.6],[-1.73,-1.5],[-1.7,-1.9],[-1.68,-1.45],[-1.65,-1.6],[-1.63,-1.4],[-1.6,-1.85],[-1.58,-1.55],[-1.55,-1.5],[-1.5,-1.35],[-1.45,-1.15],[-1.42,-1.45],[-1.4,-1.3],[-1.37,-1.2],[-1.35,-1.45],[-1.32,-1.3],[-1.3,-1.15],[-1.28,-1.4],[-1.25,-0.95],[-1.23,-1.25],[-1.2,-1.1],[-1.18,-1.35],[-1.15,-1.2],[-1.12,-1.0],[-1.1,-1.3],[-1.07,-0.55],[-1.05,-1.05],[-1.02,-0.85],[-1.0,-1.15],[-0.98,-0.75],[-0.95,-0.95],[-0.93,-1.3],[-0.9,-0.6],[-0.88,-0.85],[-0.85,-0.7],[-0.83,-1.0],[-0.8,-0.65],[-0.78,-0.85],[-0.75,-0.55],[-0.73,-0.8],[-0.7,-0.3],[-0.68,-0.65],[-0.65,-0.5],[-0.63,-1.15],[-0.6,-0.35],[-0.58,-0.6],[-0.55,-0.25],[-0.53,-0.5],[-0.5,-0.75],[-0.48,-0.35],[-0.45,-0.15],[-0.43,-0.45],[-0.4,-0.3],[-0.38,-0.6],[-0.35,-0.1],[-0.33,-0.35],[-0.3,-0.2],[-0.28,-0.45],[-0.25,0.0],[-0.23,-0.25],[-0.2,-0.1],[-0.18,-0.35],[-0.15,0.05],[-0.13,-0.2],[-0.1,-0.05],[-0.08,-0.3],[-0.05,0.1],[-0.03,-0.1],[0.0,0.05],[0.03,-0.15],[0.05,0.2],[0.08,0.0],[0.1,0.25],[0.13,-0.05],[0.15,0.3],[0.18,0.1],[0.2,0.6],[0.23,0.2],[0.25,0.4],[0.28,0.15],[0.3,0.5],[0.33,0.25],[0.35,0.6],[0.38,0.3],[0.4,0.45],[0.43,0.7],[0.45,0.35],[0.48,0.55],[0.5,0.9],[0.53,0.4],[0.55,0.65],[0.58,0.8],[0.6,0.5],[0.63,1.0],[0.65,0.7],[0.68,0.55],[0.7,0.9],[0.73,0.65],[0.75,1.05],[0.78,0.8],[0.8,0.6],[0.83,1.1],[0.85,0.85],[0.88,0.7],[0.9,1.0],[0.93,0.8],[0.95,1.15],[0.98,0.9],[1.0,1.35],[1.03,0.95],[1.05,0.8],[1.08,1.1],[1.1,1.25],[1.13,0.9],[1.15,1.2],[1.18,1.05],[1.2,1.4],[1.23,1.2],[1.25,1.55],[1.28,1.3],[1.3,1.1],[1.33,1.45],[1.35,1.3],[1.38,1.2],[1.4,1.5],[1.45,1.35],[1.48,1.75],[1.5,1.55],[1.53,1.8],[1.55,1.4],[1.58,1.65],[1.6,1.85],[1.63,1.5],[1.65,1.95],[1.7,1.85],[1.75,2.0],[1.78,1.6],[1.8,1.95],[1.88,1.8],[1.9,2.05],[1.95,2.0],[2.0,2.05],[2.1,2.0],[2.18,2.0],
[-2.0,2.1],[-1.95,1.7],[-1.9,1.95],[-1.87,1.8],[-1.85,2.05],[-1.82,1.65],[-1.8,1.9],[-1.77,2.0],[-1.75,1.7],[-1.72,1.95],[-1.68,1.6],[-1.65,1.85],[-1.62,2.05],[-1.6,1.7],[-1.55,1.35],[-1.5,1.8],[-1.47,1.7],[-1.45,1.55],[-1.43,1.8],[-1.4,1.25],[-1.38,1.15],[-1.35,1.45],[-1.33,1.3],[-1.3,1.05],[-1.28,1.25],[-1.25,1.4],[-1.22,1.15],[-1.2,1.3],[-1.18,0.95],[-1.15,1.15],[-1.13,0.85],[-1.1,1.3],[-1.05,1.2],[-1.0,1.45],[-0.98,0.8],[-0.95,0.95],[-0.93,0.7],[-0.9,1.4],[-0.88,0.85],[-0.85,0.6],[-0.83,0.8],[-0.8,0.95],[-0.78,0.65],[-0.75,0.85],[-0.73,0.5],[-0.7,0.7],[-0.68,1.2],[-0.65,0.55],[-0.63,0.75],[-0.6,0.4],[-0.58,0.6],[-0.55,1.1],[-0.53,0.45],[-0.5,0.3],[-0.48,0.55],[-0.45,0.9],[-0.43,0.35],[-0.4,0.5],[-0.38,0.2],[-0.35,0.4],[-0.33,0.15],[-0.3,0.35],[-0.28,0.1],[-0.25,0.3],[-0.23,0.0],[-0.2,0.25],[-0.18,0.05],[-0.15,0.2],[-0.13,-0.05],[-0.1,0.15],[-0.08,0.35],[-0.05,0.0],[-0.03,0.2],[0.0,-0.1],[0.03,0.1],[0.05,-0.2],[0.08,0.05],[0.1,-0.25],[0.13,-0.05],[0.15,-0.3],[0.18,-0.1],[0.2,-0.4],[0.23,-0.15],[0.25,-0.35],[0.28,-0.55],[0.3,-0.25],[0.33,-0.45],[0.35,-0.6],[0.38,-0.3],[0.4,-0.5],[0.43,-0.85],[0.45,-0.4],[0.48,-0.6],[0.5,-0.75],[0.53,-0.45],[0.55,-0.65],[0.58,-0.9],[0.6,-0.55],[0.63,-0.75],[0.65,-1.0],[0.68,-0.6],[0.7,-0.8],[0.73,-1.2],[0.75,-0.7],[0.78,-0.95],[0.8,-0.8],[0.83,-1.05],[0.85,-0.6],[0.88,-0.9],[0.9,-1.15],[0.93,-0.8],[0.95,-1.0],[0.98,-1.25],[1.0,-0.9],[1.03,-1.1],[1.05,-1.3],[1.08,-0.95],[1.1,-1.15],[1.13,-1.0],[1.15,-1.3],[1.18,-1.15],[1.2,-1.4],[1.23,-0.95],[1.25,-1.25],[1.28,-1.45],[1.3,-1.2],[1.33,-1.35],[1.35,-1.5],[1.38,-1.15],[1.4,-1.4],[1.43,-1.45],[1.45,-1.6],[1.5,-1.3],[1.53,-1.65],[1.55,-1.9],[1.58,-1.55],[1.6,-1.7],[1.63,-1.5],[1.65,-2.0],[1.7,-1.8],[1.73,-1.95],[1.78,-1.8],[1.8,-1.95]];
const crossExtra = [[-1.5,-1.6],[-1.45,-1.35],[-1.35,-1.25],[-1.3,-1.45],[-1.25,-1.2],[-1.2,-1.4],[-1.15,-1.0],[-1.1,-1.15],[-1.05,-0.9],[-1.0,-0.95],[-0.95,-1.1],[-0.9,-0.8],[-0.85,-0.95],[-0.8,-0.75],[-0.75,-0.9],[-0.7,-0.6],[-0.65,-0.75],[-0.6,-0.55],[-0.55,-0.7],[-0.5,-0.45],[-0.45,-0.55],[-0.4,-0.35],[-0.35,-0.5],[-0.3,-0.25],[-0.25,-0.35],[-0.2,-0.15],[-0.15,-0.25],[-0.1,-0.1],[-0.05,-0.15],[0.0,0.0],[0.05,0.0],[0.1,0.15],[0.15,0.1],[0.2,0.3],[0.25,0.2],[0.3,0.35],[0.35,0.3],[0.4,0.5],[0.45,0.4],[0.5,0.6],[0.55,0.5],[0.6,0.7],[0.65,0.55],[0.7,0.75],[0.75,0.7],[0.8,0.9],[0.85,0.75],[0.9,0.95],[0.95,0.9],[1.0,1.05],[1.05,0.95],[1.1,1.15],[1.15,1.05],[1.2,1.25],[1.25,1.2],[1.3,1.35],[1.35,1.25],[1.4,1.45],[1.5,1.4],[1.6,1.6],
[-1.5,1.55],[-1.45,1.35],[-1.35,1.3],[-1.3,1.4],[-1.25,1.2],[-1.2,1.2],[-1.15,1.05],[-1.1,1.1],[-1.05,0.95],[-1.0,1.0],[-0.95,1.05],[-0.9,0.85],[-0.85,0.95],[-0.8,0.75],[-0.75,0.8],[-0.7,0.6],[-0.65,0.7],[-0.6,0.55],[-0.55,0.6],[-0.5,0.45],[-0.45,0.5],[-0.4,0.35],[-0.35,0.4],[-0.3,0.25],[-0.25,0.2],[-0.2,0.15],[-0.15,0.1],[-0.1,0.05],[-0.05,0.1],[0.0,0.05],[0.05,-0.05],[0.1,-0.1],[0.15,-0.2],[0.2,-0.2],[0.25,-0.25],[0.3,-0.35],[0.35,-0.3],[0.4,-0.45],[0.45,-0.5],[0.5,-0.5],[0.55,-0.55],[0.6,-0.65],[0.65,-0.7],[0.7,-0.65],[0.75,-0.8],[0.8,-0.85],[0.85,-0.8],[0.9,-0.95],[0.95,-0.9],[1.0,-1.05],[1.05,-1.0],[1.1,-1.1],[1.15,-1.15],[1.2,-1.15],[1.25,-1.3],[1.3,-1.35],[1.35,-1.3],[1.4,-1.55],[1.5,-1.5],[1.6,-1.6]];
const crossExtra2 = [[-0.5,-0.6],[-0.45,-0.4],[-0.4,-0.45],[-0.35,-0.25],[-0.3,-0.4],[-0.25,-0.15],[-0.2,-0.3],[-0.15,-0.1],[-0.1,-0.2],[-0.05,0.05],[0.05,-0.1],[0.1,0.05],[0.15,0.2],[0.2,0.1],[0.25,0.35],[0.3,0.2],[0.35,0.45],[0.4,0.3],[0.45,0.55],[0.5,0.4],
[-0.5,0.6],[-0.45,0.35],[-0.4,0.45],[-0.35,0.25],[-0.3,0.45],[-0.25,0.15],[-0.2,0.35],[-0.15,0.0],[-0.1,0.25],[-0.05,-0.05],[0.05,0.15],[0.1,-0.15],[0.15,0.05],[0.2,-0.3],[0.25,-0.1],[0.3,-0.45],[0.35,-0.2],[0.4,-0.35],[0.45,-0.65],[0.5,-0.35],
[-0.95,-0.7],[-0.85,-1.1],[-0.75,-0.65],[-0.65,-0.85],[0.65,0.85],[0.75,0.55],[0.85,1.0],[0.95,0.75],[-0.95,0.85],[-0.85,1.05],[-0.75,0.65],[-0.65,0.9],[0.65,-0.85],[0.75,-0.55],[0.85,-1.0],[0.95,-0.75],[1.05,1.15],[1.15,0.95],[-1.05,-1.2],[-1.15,-0.95],[1.05,-1.2],[1.15,-0.9],[-1.05,1.05],[-1.15,1.25]];
const crossExtra3 = [[-1.4,-1.0],[-1.2,-1.55],[-0.9,-1.2],[-0.7,-0.45],[-0.4,-0.75],[-0.2,0.1],[0.2,0.45],[0.4,0.15],[0.6,0.95],[0.9,0.6],[1.1,1.45],[1.3,1.0],[-1.4,1.7],[-1.2,0.85],[-0.9,0.55],[-0.7,1.05],[-0.4,0.15],[-0.2,0.55],[0.2,0.1],[0.4,-0.75],[0.6,-0.3],[0.9,-1.3],[1.1,-0.75],[1.3,-1.6]];

// ---------- layout ----------
const FONT = 'Liberation Serif, Times New Roman, serif';
const panels = [
  {data: linearData.concat(linearExtra, linearExtra2, linearExtra3), grid:{left:61, top:52, width:488, height:261}, x:[-3.228,2.964], y:[-6.41,5.90], xt:linearXTicks, yt:linearYTicks, fmt:false, yGap:30, tx:305, ty:11},
  {data: quadData.concat(quadExtra, quadExtra2, quadExtra3),         grid:{left:652, top:52, width:464, height:262}, x:[-3.375,3.10], y:[-10.1,1.14], xt:quadXTicks, yt:quadYTicks, fmt:true, yGap:54, tx:884, ty:11},
  {data: expData.concat(expExtra, expExtra2, expExtra3),             grid:{left:71, top:436, width:478, height:263}, x:[-2.822,3.131], y:[-13.70,0.96], xt:expXTicks, yt:expYTicks, fmt:false, yGap:40, tx:310, ty:394},
  {data: sineData.concat(sineExtra, sineExtra2, sineExtra3),         grid:{left:628, top:436, width:488, height:264}, x:[-3.91,3.69], y:[-1.60,1.56], xt:sineXTicks, yt:sineYTicks, fmt:false, yGap:30, tx:871, ty:394},
  {data: crossData.concat(crossExtra, crossExtra2, crossExtra3),     grid:{left:61, top:821, width:489, height:262}, x:[-3.116,3.378], y:[-3.35,2.88], xt:crossXTicks, yt:crossYTicks, fmt:false, yGap:30, tx:305, ty:779}
];

const tickColor = '#6a6a6a';
const labelColor = '#56606e';
const option = {
  backgroundColor: '#fff',
  animation: false,
  title: panels.map((p,i)=>({text: titles[i], left: p.tx, top: p.ty, textAlign:'center',
    textStyle:{fontFamily:FONT, fontWeight:'bold', fontSize:30, color:'#111'}})),
  grid: panels.map(p=>Object.assign({show:true, borderColor:'#707070', borderWidth:1.5, backgroundColor:'#fff'}, p.grid)),
  xAxis: panels.map((p,i)=>({type:'value', gridIndex:i, min:p.x[0], max:p.x[1], position:'bottom',
    name:'x', nameLocation:'middle', nameGap:40,
    nameTextStyle:{fontFamily:FONT, fontWeight:'bold', fontSize:22, color:'#333'},
    axisLine:{show:false, onZero:false}, splitLine:{show:false},
    axisTick:{show:true, length:5, customValues:p.xt, lineStyle:{color:tickColor, width:1.5}},
    axisLabel:{customValues:p.xt, margin:14, fontFamily:FONT, fontSize:18, color:labelColor}})),
  yAxis: panels.map((p,i)=>({type:'value', gridIndex:i, min:p.y[0], max:p.y[1], position:'left',
    name:'y', nameLocation:'middle', nameGap:p.yGap,
    nameTextStyle:{fontFamily:FONT, fontWeight:'bold', fontSize:22, color:'#333'},
    axisLine:{show:false, onZero:false}, splitLine:{show:false},
    axisTick:{show:true, length:6, customValues:p.yt, lineStyle:{color:tickColor, width:1.5}},
    axisLabel:{customValues:p.yt, margin:9, fontFamily:FONT, fontSize:18, color:labelColor,
      formatter: p.fmt ? (v=>Number(v).toFixed(1)) : (v=>String(v))}})),
  series: panels.map((p,i)=>({type:'scatter', xAxisIndex:i, yAxisIndex:i, data:p.data,
    symbol:'circle', symbolSize:7, clip:true, large:false,
    itemStyle:{color:'rgba(255,255,255,0)', borderColor:'#000', borderWidth:1.5, opacity:1}}))
};

const chart = echarts.init(document.getElementById('c'), null, {renderer:'canvas'});
chart.setOption(option);
</script>
</body>
</html>
